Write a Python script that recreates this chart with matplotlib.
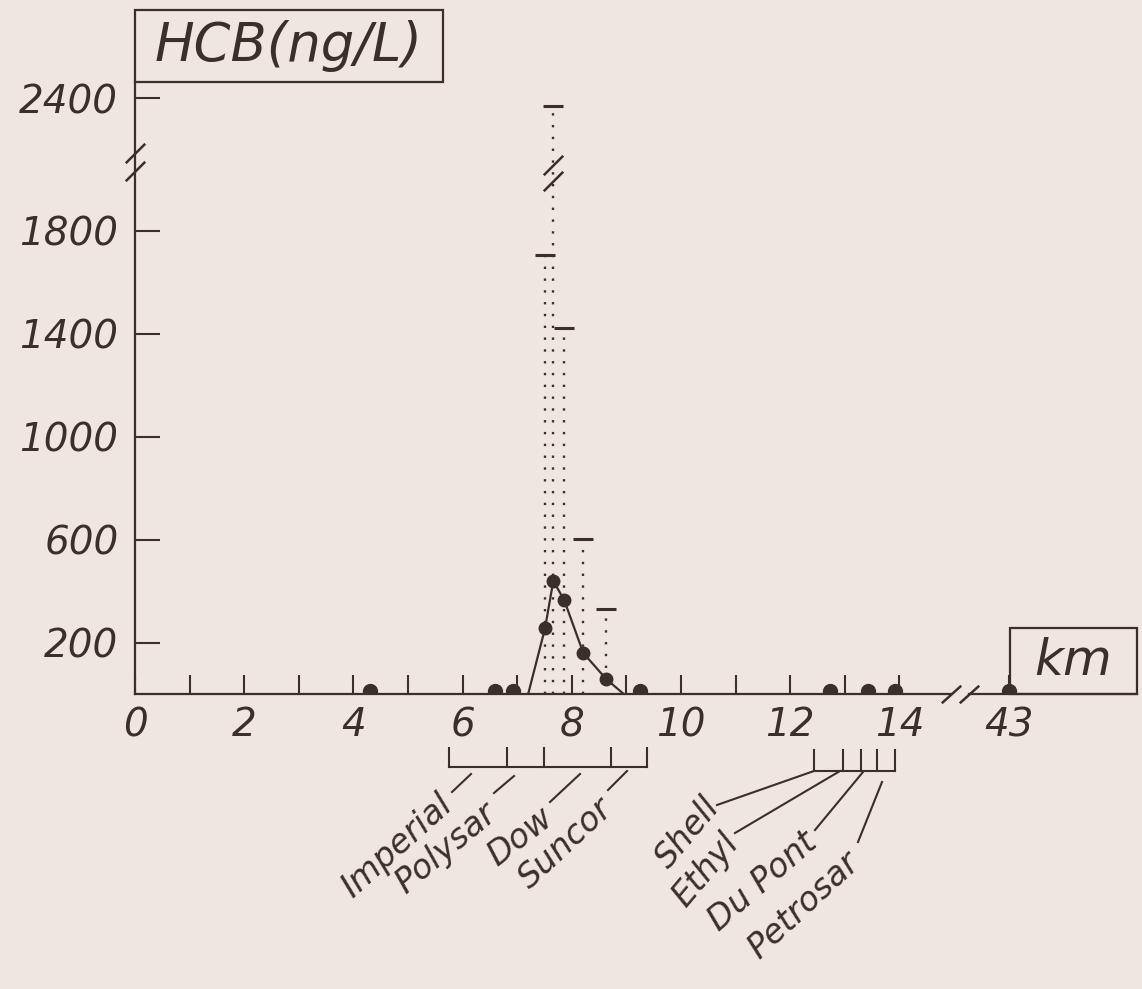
import numpy as np
import matplotlib
matplotlib.use('Agg')
import matplotlib.pyplot as plt
from matplotlib import transforms
from matplotlib.lines import Line2D
from matplotlib.patches import Rectangle

# HCB in St. Clair River water along the Sarnia shoreline (km downstream)
bg_km = [4.3, 6.6, 6.92, 9.25, 12.73, 13.42, 13.92, 43]
bg_hcb = [10, 10, 10, 10, 10, 10, 10, 10]
peak_km = [7.2, 7.51, 7.66, 7.86, 8.21, 8.63, 8.95]
peak_hcb = [0, 256, 439, 365, 159, 58, 0]
err_km = [7.51, 7.66, 7.86, 8.21, 8.63]
err_lo = [0, 0, 0, 0, 100]
err_hi = [1705, 2360, 1421, 602, 330]

xtick_km = [0, 2, 4, 6, 8, 10, 12, 14, 43]
xtick_labels = ['0', '2', '4', '6', '8', '10', '12', '14', '43']
ytick_vals = [200, 600, 1000, 1400, 1800, 2400]

# plant frontage along the river (bracket ends/dividers, km)
left_plants = ['Imperial', 'Polysar', 'Dow', 'Suncor']
left_edges = [5.75, 6.81, 7.49, 8.72, 9.38]
right_plants = ['Shell', 'Ethyl', 'Du Pont', 'Petrosar']
right_edges = [12.44, 12.97, 13.30, 13.59, 13.92]

INK = '#3a2f2a'
PAPER = '#eee6df'
W, H = 1142, 989

plt.rcParams['font.family'] = ['DejaVu Sans']
plt.rcParams['font.style'] = 'oblique'


def xfwd(x):
    x = np.asarray(x, float)
    return np.where(x <= 15, x, 15 + (x - 15) / 28.0)


def xinv(u):
    u = np.asarray(u, float)
    return np.where(u <= 15, u, 15 + (u - 15) * 28.0)


def yfwd(v):
    v = np.asarray(v, float)
    return np.where(v <= 2000, v, 2000 + (v - 2000) * 0.786)


def yinv(u):
    u = np.asarray(u, float)
    return np.where(u <= 2000, u, 2000 + (u - 2000) / 0.786)


def fy(py):
    return 1 - py / H


fig = plt.figure(figsize=(W / 100, H / 100), dpi=100, facecolor=PAPER)
ax = fig.add_axes([135 / W, fy(694), 1002 / W, 612 / H])
ax.set_facecolor(PAPER)
ax.set_xscale('function', functions=(xfwd, xinv))
ax.set_yscale('function', functions=(yfwd, yinv))
ax.set_xlim(0, float(xinv(18.35)))
ax.set_ylim(0, 2480)

# ranges (dotted) with caps
ax.vlines(err_km, err_lo, err_hi, colors=INK, linestyles=(0, (1, 4)), lw=1.7)
ax.plot(err_km, err_hi, ls='none', marker='_', ms=14, mew=2.2, color=INK)

# mean profile
ax.plot(peak_km, peak_hcb, color=INK, lw=1.6)
ax.plot(peak_km[1:-1], peak_hcb[1:-1], 'o', ms=9, color=INK)
ax.plot(bg_km, bg_hcb, 'o', ms=10, color=INK, clip_on=True)

# axes styling
for s in ['top', 'right', 'bottom']:
    ax.spines[s].set_visible(False)
ax.spines['left'].set_color(INK)
ax.spines['left'].set_linewidth(1.6)
ax.plot([0, 14.945], [0, 0], color=INK, lw=1.6, clip_on=False)
ax.plot([22.6, float(xinv(18.35))], [0, 0], color=INK, lw=1.6, clip_on=False)

ax.set_xticks(xtick_km)
ax.set_xticklabels(xtick_labels)
ax.set_xticks(list(range(1, 15, 2)), minor=True)
ax.set_yticks(ytick_vals)
ax.set_yticklabels([str(v) for v in ytick_vals])
ax.set_yticks([], minor=True)
ax.tick_params(axis='x', which='both', direction='in', length=14, width=1.5,
               color=INK, pad=9, labelsize=28, labelcolor=INK)
ax.tick_params(axis='y', direction='in', length=18, width=1.5,
               color=INK, pad=12, labelsize=28, labelcolor=INK)

# break marks
brk = dict(marker=[(-1, -1), (1, 1)], ms=14, mew=1.8, ls='none',
           color=INK, mec=INK, clip_on=False)
ybt = transforms.blended_transform_factory(ax.transAxes, ax.transData)
ax.plot([0, 0], [2040, 2128], transform=ybt, **brk)
ax.plot([7.66, 7.66], [1992, 2069], **brk)
ax.plot([14.945, 22.6], [0, 0], **dict(brk, marker=[(-1, -0.9), (1, 0.9)]))

# boxed axis titles
ax.add_patch(Rectangle((0, 1), 0.307, 0.118, transform=ax.transAxes,
                       fill=False, ec=INK, lw=1.6, clip_on=False))
ax.text(0.1535, 1.059, 'HCB(ng/L)', transform=ax.transAxes, ha='center',
        va='center', fontsize=38, color=INK)
ax.add_patch(Rectangle((0.873, 0), 0.127, 0.108, transform=ax.transAxes,
                       fill=False, ec=INK, lw=1.6, clip_on=False))
ax.text(0.9365, 0.054, 'km', transform=ax.transAxes, ha='center',
        va='center', fontsize=36, color=INK)

# plant brackets below the axis
bx = transforms.blended_transform_factory(ax.transData, fig.transFigure)
for edges, ytop, ybot in [(left_edges, 748, 767), (right_edges, 750, 771)]:
    ax.plot([edges[0], edges[-1]], [fy(ybot)] * 2, transform=bx,
            color=INK, lw=1.5, clip_on=False)
    for e in edges:
        ax.plot([e, e], [fy(ytop), fy(ybot)], transform=bx,
                color=INK, lw=1.5, clip_on=False)

leaders = [((471, 774), (452, 792)), ((514, 776), (494, 793)),
           ((580, 774), (550, 802)), ((627, 771), (608, 790)),
           ((814, 771), (717, 805)), ((840, 771), (735, 833)),
           ((863, 772), (815, 830)), ((882, 782), (858, 842))]
label_ends = [(448, 800), (492, 810), (549, 814), (608, 804),
              (714, 802), (733, 838), (813, 838), (855, 858)]
label_rot = [42, 40, 38, 43, 50, 50, 41, 43]
for (p0, p1) in leaders:
    fig.add_artist(Line2D([p0[0] / W, p1[0] / W], [fy(p0[1]), fy(p1[1])],
                          color=INK, lw=1.5))
for name, (ex, ey), rot in zip(left_plants + right_plants, label_ends, label_rot):
    fig.text(ex / W, fy(ey), name, rotation=rot, rotation_mode='anchor',
             ha='right', va='center', fontsize=24, color=INK)

fig.savefig('out.png', dpi=100, facecolor=PAPER)
